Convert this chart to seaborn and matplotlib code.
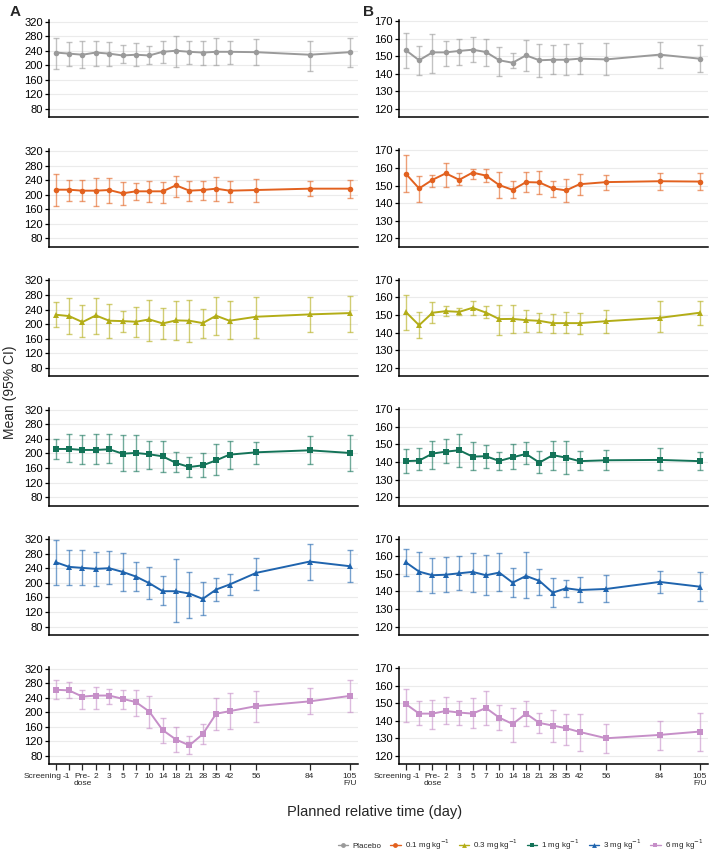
import numpy as np
import pandas as pd
import matplotlib
matplotlib.use("Agg")
import matplotlib.pyplot as plt
import matplotlib.transforms as mtransforms
from matplotlib.lines import Line2D
import seaborn as sns

# planned relative time (x axis)
time_labels = ["Screening", "-1", "Pre-\ndose", "2", "3", "5", "7", "10", "14", "18",
               "21", "28", "35", "42", "56", "84", "105\nF/U"]
time_days = [None, -1, 0, 2, 3, 5, 7, 10, 14, 18, 21, 28, 35, 42, 56, 84, 105]

doses = ["Placebo", "0.1 mg kg$^{-1}$", "0.3 mg kg$^{-1}$", "1 mg kg$^{-1}$",
         "3 mg kg$^{-1}$", "6 mg kg$^{-1}$"]

# panel A: mean and 95% CI
pl_a_mean = [235, 232, 229, 235, 232, 227, 229, 227, 237, 240, 237, 235, 237, 237, 236, 229, 236]
pl_a_lo = [190, 198, 192, 198, 199, 207, 199, 203, 205, 194, 203, 201, 200, 203, 200, 185, 195]
pl_a_hi = [274, 263, 266, 267, 263, 255, 262, 252, 266, 280, 267, 267, 274, 267, 271, 268, 274]

d01_a_mean = [213.7, 213.7, 211, 211, 212.8, 203.7, 209.2, 209.2, 209.2, 225.7, 211, 212.8, 216.5, 211, 212.8, 216.5, 216.5]
d01_a_lo = [168, 183.5, 183.5, 169.8, 176.2, 171.6, 184.4, 180.8, 178, 194.5, 181.7, 185.3, 182.6, 180.8, 179, 196.3, 190]
d01_a_hi = [256.8, 240.3, 240.3, 245.8, 245.8, 234.8, 231.1, 236.6, 234.8, 252.2, 237.6, 237.6, 248.6, 237.6, 244, 237.6, 240.3]

d03_a_mean = [225.7, 222, 205.5, 223.8, 209.2, 208.2, 206.4, 212.8, 201.8, 210.1, 209.2, 202.7, 222.9, 209.2, 220.2, 226.6, 230.2]
d03_a_lo = [191.8, 173.4, 163.4, 173.4, 161.5, 178, 163.4, 154.2, 157.9, 156.9, 149.6, 160.6, 169.8, 158.8, 160.6, 178, 179]
d03_a_hi = [260.5, 270.5, 252.2, 270.5, 254, 236.6, 245.8, 266, 244, 262.3, 266, 241.2, 274.2, 263.2, 274.2, 274.2, 277]

d1_a_mean = [212.4, 212.4, 209.7, 209.7, 211.5, 199.5, 201.4, 197.7, 192.2, 173.8, 162.8, 167.4, 181.1, 196.8, 203.2, 208.7, 201.4]
d1_a_lo = [183.9, 176.6, 171, 170.1, 174.7, 150.8, 151.7, 158.2, 148, 148, 135.2, 135.2, 140.7, 157.2, 172, 172, 150.8]
d1_a_hi = [240.9, 253.8, 252, 253.8, 254.7, 251, 252, 233.6, 233.6, 204.1, 190.3, 202.3, 226.2, 234.5, 232.6, 247.4, 252]

d3_a_mean = [256.8, 244, 241.2, 238.5, 240.3, 230.2, 217.4, 199.1, 177.1, 177.1, 170.7, 156, 181.7, 195.4, 227.5, 258.6, 245.8]
d3_a_lo = [194.5, 194.5, 193.6, 191.8, 197.3, 178, 178.9, 156, 138.6, 92.8, 102.9, 112.1, 149.6, 167, 180.8, 207.5, 202.7]
d3_a_hi = [317.3, 291.7, 289.8, 285.2, 287, 283.4, 257.7, 244.9, 219.3, 265, 230.2, 203.7, 212.8, 225.7, 269.6, 307.2, 289.8]

d6_a_mean = [262, 260, 243, 246, 246, 237, 228, 202, 151, 125, 109, 140, 196, 203, 217, 230, 245]
d6_a_lo = [236, 238, 208, 210, 224, 210, 191, 158, 115, 92, 85, 114, 151, 154, 174, 195, 200]
d6_a_hi = [290, 282, 262, 270, 265, 262, 262, 246, 184, 159, 135, 167, 240, 252, 258, 268, 288]

# panel B: mean and 95% CI
pl_b_mean = [153.5, 147.7, 152.2, 152.2, 153, 153.7, 152.4, 147.7, 146.3, 150.5, 147.7, 148, 148, 148.6, 148.2, 150.9, 148.6]
pl_b_lo = [143.1, 139.3, 140.3, 144.2, 145, 146.5, 144.2, 138.9, 143.1, 141.8, 138, 139.7, 139.1, 139.7, 139.5, 143.3, 141]
pl_b_hi = [163.2, 156, 162.8, 158.8, 159.8, 160.8, 159.8, 155.2, 152, 159, 156.7, 156.4, 156.9, 157.7, 157.5, 157.9, 156.2]

d01_b_mean = [156.8, 148.4, 153.3, 157, 153.3, 157.4, 155.7, 150.3, 147.6, 152, 151.8, 148.4, 147.3, 150.8, 152, 152.5, 152.3]
d01_b_lo = [146.1, 140.7, 149.5, 149.5, 150.1, 154, 152.3, 143.1, 142.7, 146.5, 145, 143.3, 140.9, 144.6, 147.6, 147.6, 147.4]
d01_b_hi = [167.4, 155.2, 155.9, 163, 157.4, 159.7, 159.3, 157.8, 152.5, 157.8, 158.2, 152.9, 154, 156.8, 156.3, 157.4, 157.4]

d03_b_mean = [151.8, 144.2, 151.3, 152.2, 151.8, 154.1, 151.4, 147.7, 147.8, 147.1, 146.7, 145.4, 145.4, 145.4, 146.5, 148.4, 151.3]
d03_b_lo = [141.6, 136.9, 145.4, 149.2, 149.9, 150.3, 148.4, 138.6, 139.9, 140.5, 140.6, 139.9, 139.7, 139.3, 139.9, 140.1, 144.2]
d03_b_hi = [161.1, 151.8, 157.3, 155, 153.9, 158.1, 155, 155.6, 155.8, 153.1, 151.4, 150.5, 151.6, 151.4, 153, 157.7, 158.1]

d1_b_mean = [140.5, 140.8, 144.8, 145.9, 146.7, 143.1, 143.3, 140.6, 142.7, 144.6, 139.7, 143.9, 142.5, 140.5, 141, 141.2, 140.5]
d1_b_lo = [133.8, 135.5, 136.3, 139.7, 137, 135.7, 136.7, 135.2, 136.1, 138.6, 133.8, 135.2, 133.3, 135.2, 135.2, 135.3, 135.2]
d1_b_hi = [147.3, 147.8, 152.2, 152.9, 156.2, 151.3, 149.4, 145.8, 150.1, 151.3, 146.5, 152.2, 151.8, 146.3, 146.7, 147.8, 145.8]

d3_b_mean = [156.6, 151.25, 149.2, 149.5, 150.3, 151.1, 149.2, 150.7, 145, 148.8, 146, 139.3, 141.8, 140.8, 141.4, 145.4, 142.7]
d3_b_lo = [148.6, 140.5, 139.3, 139.7, 140.8, 139.9, 137.8, 140.3, 136.9, 136.1, 137.8, 131.4, 136.7, 134, 134.2, 139.3, 134.4]
d3_b_hi = [164.1, 162.2, 159.2, 159.6, 160, 162, 160.7, 162, 153.1, 162.4, 152.6, 147.7, 146.7, 148.2, 149.3, 151.4, 151.3]

d6_b_mean = [149.6, 144.1, 144.1, 145.6, 144.7, 144.1, 147.3, 141.8, 138.2, 144.1, 138.8, 137.3, 135.8, 133.7, 130.1, 132, 133.9]
d6_b_lo = [139.2, 137.5, 135.2, 138, 137.7, 136.1, 137.7, 134.6, 128.2, 137.1, 132.9, 128, 126.3, 122.9, 121.7, 123.6, 123.1]
d6_b_hi = [158, 151.3, 152, 153.5, 151, 153, 157, 149.1, 147.5, 151.3, 144.5, 146.2, 144.1, 143.9, 138.2, 140.1, 144.5]

panel_a = [(pl_a_mean, pl_a_lo, pl_a_hi), (d01_a_mean, d01_a_lo, d01_a_hi),
           (d03_a_mean, d03_a_lo, d03_a_hi), (d1_a_mean, d1_a_lo, d1_a_hi),
           (d3_a_mean, d3_a_lo, d3_a_hi), (d6_a_mean, d6_a_lo, d6_a_hi)]
panel_b = [(pl_b_mean, pl_b_lo, pl_b_hi), (d01_b_mean, d01_b_lo, d01_b_hi),
           (d03_b_mean, d03_b_lo, d03_b_hi), (d1_b_mean, d1_b_lo, d1_b_hi),
           (d3_b_mean, d3_b_lo, d3_b_hi), (d6_b_mean, d6_b_lo, d6_b_hi)]

colors = ["#9a9a9a", "#e2611f", "#b3ad17", "#137358", "#1f64ae", "#c68fc8"]
markers = ["o", "o", "^", "s", "^", "s"]


def time_pos(i, day):
    # evenly spaced visits up to day 42, then one step per week
    return i if i <= 13 else 13 + (day - 42) / 7


x_pos = [time_pos(i, d) for i, d in enumerate(time_days)]

sns.set_style("white")
plt.rcParams["font.family"] = ["Liberation Sans", "DejaVu Sans"]

W, H = 709, 852
fig = plt.figure(figsize=(W / 100, H / 100), dpi=100)

row_bottom0, row_step, ax_h = 117.3, 129.4, 97.5
col_left = [49.3, 399.3]
ax_w = 308.4


def draw_panel(ax, data, color, marker, ylim, yticks, last):
    mean, lo, hi = (np.asarray(v, dtype=float) for v in data)
    df = pd.DataFrame({"pos": x_pos, "mean": mean})
    ax.errorbar(df["pos"], df["mean"], yerr=[mean - lo, hi - mean], fmt="none",
                ecolor=color, alpha=0.6, elinewidth=1.0, capsize=2.2, capthick=1.0, zorder=2)
    sns.lineplot(data=df, x="pos", y="mean", ax=ax, color=color, marker=marker,
                 markersize=4 if marker != "^" else 4.5, markeredgewidth=0,
                 linewidth=1.4, zorder=3, legend=False)
    ax.set_xlim(-0.48, 22.59)
    ax.set_ylim(*ylim)
    ax.set_yticks(yticks)
    ax.grid(axis="y", color="#ebebeb", linewidth=0.8, zorder=0)
    ax.set_axisbelow(True)
    sns.despine(ax=ax)
    for s in ["left", "bottom"]:
        ax.spines[s].set_color("black")
        ax.spines[s].set_linewidth(1.1)
    ax.tick_params(axis="y", length=3, width=0.9, labelsize=8, pad=1.5, colors="black", left=True)
    ax.set_xlabel("")
    ax.set_ylabel("")
    ax.set_xticks(x_pos)
    if last:
        labels = ax.set_xticklabels(time_labels, fontsize=6.0, linespacing=1.1)
        ax.tick_params(axis="x", length=4, width=0.9, pad=2, bottom=True)
        # "Screening" and "-1" sit slightly left of their ticks, as in the source
        shifts = {0: -13, 1: -3}
        for idx, dx in shifts.items():
            lab = labels[idx]
            lab.set_transform(lab.get_transform() +
                              mtransforms.ScaledTranslation(dx / 100, 0, fig.dpi_scale_trans))
    else:
        ax.set_xticklabels([])
        ax.tick_params(axis="x", length=0, bottom=False)


for r in range(6):
    bottom = 1 - (row_bottom0 + row_step * r) / H
    for c, (panel, ylim, yticks) in enumerate([
            (panel_a, (57, 325), np.arange(80, 321, 40)),
            (panel_b, (115.3, 170.7), np.arange(120, 171, 10))]):
        ax = fig.add_axes([col_left[c] / W, bottom, ax_w / W, ax_h / H])
        draw_panel(ax, panel[r], colors[r], markers[r], ylim, yticks, r == 5)

fig.text(15 / W, 1 - 12 / H, "A", fontsize=11, fontweight="bold", ha="center", va="center")
fig.text(368 / W, 1 - 12 / H, "B", fontsize=11, fontweight="bold", ha="center", va="center")
fig.text(10 / W, 1 - 392 / H, "Mean (95% CI)", fontsize=10, rotation=90, ha="center", va="center")
fig.text(375 / W, 1 - 812 / H, "Planned relative time (day)", fontsize=10.5, ha="center", va="center")

handles = [Line2D([0], [0], color=colors[i], marker=markers[i], markersize=3.5,
                  markeredgewidth=0, linewidth=1.0) for i in range(6)]
fig.legend(handles, doses, loc="center right", bbox_to_anchor=(703 / W, 1 - 845 / H),
           ncol=6, frameon=False, fontsize=5.8, handlelength=1.3, handletextpad=0.5,
           columnspacing=1.1, borderpad=0, borderaxespad=0)

fig.savefig("out.png", dpi=100)
